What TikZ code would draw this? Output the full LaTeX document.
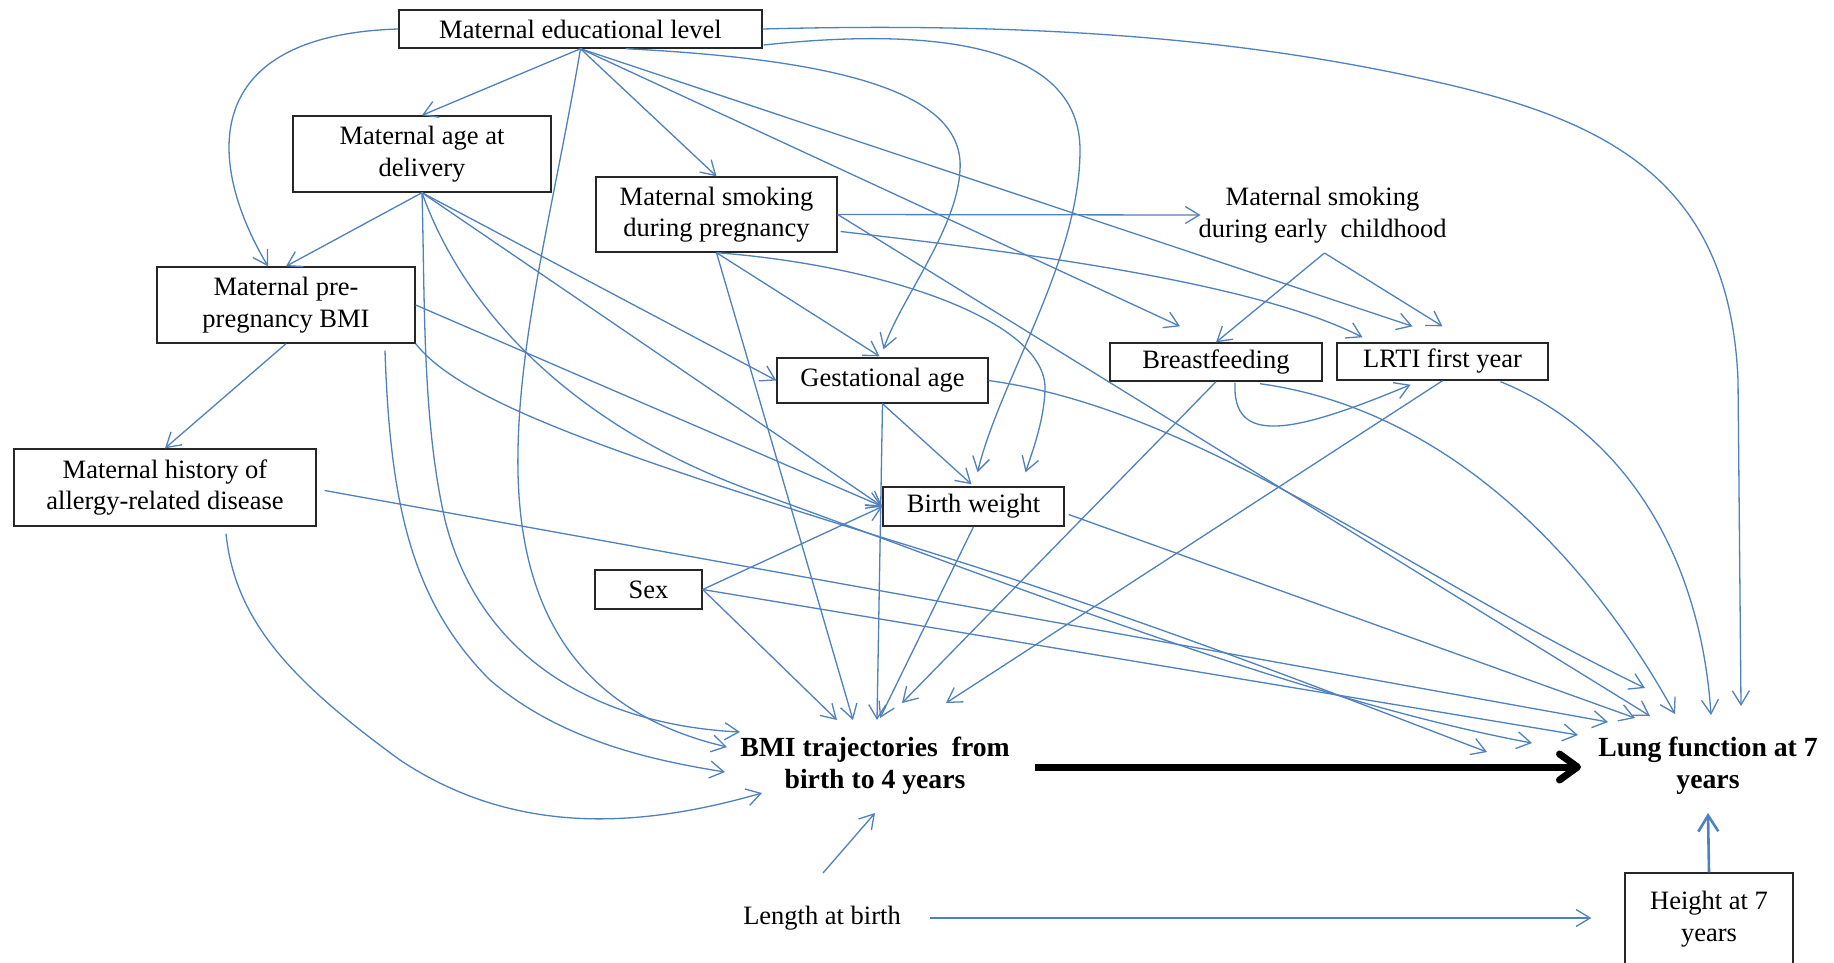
\documentclass[tikz,border=0pt]{standalone}
\usepackage{fontspec}
\setmainfont{Liberation Serif}
\usetikzlibrary{arrows.meta,calc}
\definecolor{edgeblue}{RGB}{79,129,189}
\tikzset{
  lbl/.style={font=\fontsize{26.5}{31.5}\selectfont, align=center, inner sep=0pt, text=black},
  bx/.style={lbl, draw=black!85, line width=1.4pt},
  boldlbl/.style={font=\fontsize{27.7}{32}\selectfont\bfseries, align=center, inner sep=0pt},
  conn/.style={draw=edgeblue, line width=1.3pt, -{Straight Barb[length=14pt,width=17pt]}},
  mainarrow/.style={draw=black, line width=7pt, -{Straight Barb[length=18pt,width=26pt,round]}},
  heightarrow/.style={draw=edgeblue, line width=2.6pt, -{Straight Barb[length=16pt,width=20pt]}},
}
\begin{document}
\begin{tikzpicture}[x=1pt,y=-1pt]
\fill[white] (0,0) rectangle (1834,962);
\useasboundingbox (0,0) rectangle (1834,962);

% nodes
\node[bx, minimum width=363, minimum height=38] (edu) at (580.5,29) {Maternal educational level};
\node[bx, minimum width=258, minimum height=76] (age) at (422,154) {Maternal age at\\delivery};
\node[bx, minimum width=241, minimum height=75] (smokP) at (716.5,214.5) {Maternal smoking\\during pregnancy};
\node[lbl] (smokC) at (1322.5,215) {Maternal smoking\\during early\ \ childhood};
\node[bx, minimum width=258, minimum height=76] (bmiM) at (286,305) {Maternal pre-\\pregnancy BMI};
\node[bx, minimum width=211, minimum height=45] (gest) at (882.5,380.5) {Gestational age};
\node[bx, minimum width=212, minimum height=38] (breast) at (1216,362) {Breastfeeding};
\node[bx, minimum width=211, minimum height=37] (lrti) at (1442.5,361.5) {LRTI first year};
\node[bx, minimum width=302, minimum height=77] (allergy) at (165,487.5) {Maternal history of\\allergy-related disease};
\node[bx, minimum width=181, minimum height=39] (bw) at (973.5,506.5) {Birth weight};
\node[bx, minimum width=107, minimum height=39] (sex) at (648.5,589.5) {Sex};
\node[boldlbl] (bmit) at (875,766) {BMI trajectories\ \ from\\birth to 4 years};
\node[boldlbl] (lung) at (1708,766) {Lung function at 7\\years};
\node[lbl] (length) at (822,918) {Length at birth};
\node[bx, minimum width=168, minimum height=92] (height) at (1709,919) {Height at 7\\years};

% maternal educational level
\draw[conn] (edu.west) .. controls (200,35) and (205,160) .. ($(bmiM.north)+(-18,0)$);
\draw[conn] (edu.south) -- (age.north);
\draw[conn] (edu.south) -- (smokP.north);
\draw[conn] ($(edu.south)+(45,0)$) .. controls (850,60) and (965,95) .. (960,170) .. controls (957,230) and (900,300) .. ($(gest.north)+(1,-8)$);
\draw[conn] (edu.south) -- ($(breast.north)+(-36,-16)$);
\draw[conn] (edu.south) -- ($(lrti.north)+(-30,-16)$);
\draw[conn] ($(edu.east)+(1,16)$) .. controls (950,25) and (1080,50) .. (1080,150) .. controls (1080,260) and (1000,380) .. ($(bw.north)+(4,-14)$);
\draw[conn] (edu.east) .. controls (1100,20) and (1300,50) .. (1450,85) .. controls (1620,125) and (1730,190) .. (1738,380) -- ($(lung)+(33,-60)$);
\draw[conn] (edu.south) .. controls (555,200) and (520,330) .. (518,450) .. controls (515,600) and (570,710) .. ($(bmit)+(-148,-19)$);

% maternal age
\draw[conn] (age.south) -- (bmiM.north);
\draw[conn] (age.south) -- (gest.west);
\draw[conn] (age.south) -- (bw.west);
\draw[conn] (age.south) .. controls (425,300) and (422,420) .. (445,520) .. controls (480,660) and (600,725) .. ($(bmit)+(-135,-34)$);
\draw[conn] (age.south) .. controls (460,300) and (560,420) .. (750,490) .. controls (1000,580) and (1300,700) .. ($(lung)+(-176,-23)$);

% maternal pre-pregnancy BMI
\draw[conn] (bmiM.south) -- (allergy.north);
\draw[conn] (bmiM.east) -- (bw.west);
\draw[conn] (bmiM.south east) .. controls (460,400) and (600,450) .. (900,543) .. controls (1150,620) and (1350,700) .. ($(lung)+(-221,-14)$);
\draw[conn] ($(bmiM.south)+(99,7)$) .. controls (390,500) and (410,600) .. (490,680) .. controls (560,740) and (650,760) .. ($(bmit)+(-150,6)$);

% maternal history of allergy
\draw[conn] ($(allergy.east)+(8,3)$) -- ($(lung)+(-100,-44)$);
\draw[conn] ($(allergy.south)+(61,7)$) .. controls (235,620) and (290,680) .. (400,760) .. controls (520,840) and (650,825) .. ($(bmit)+(-113,27)$);

% maternal smoking during pregnancy
\draw[conn] (smokP.east) -- ($(smokC)+(-122,0)$);
\draw[conn] ($(smokP.east)+(3,17)$) .. controls (1000,250) and (1250,280) .. ($(lrti.north)+(-80,-5)$);
\draw[conn] (smokP.south) -- ($(gest.north)+(-3,-1)$);
\draw[conn] (smokP.south) .. controls (880,265) and (1048,320) .. (1045,390) .. controls (1044,420) and (1033,450) .. ($(bw.north)+(52,-14)$);
\draw[conn] (smokP.south) -- ($(bmit)+(-22,-46)$);
\draw[conn] (smokP.east) -- ($(lung)+(-58,-50)$);

% maternal smoking during early childhood
\draw[conn] ($(smokC)+(2,38)$) -- (breast.north);
\draw[conn] ($(smokC)+(2,38)$) -- ($(lrti.north)+(0,-16)$);

% gestational age
\draw[conn] (gest.south) -- ($(bw.north)+(-2,-2)$);
\draw[conn] (gest.south) -- ($(bmit)+(2,-46)$);
\draw[conn] (gest.east) .. controls (1200,410) and (1400,570) .. ($(lung)+(-63,-78)$);

% birth weight
\draw[conn] (bw.south) -- ($(bmit)+(5,-48)$);
\draw[conn] ($(bw.east)+(4,8)$) -- ($(lung)+(-73,-48)$);

% sex
\draw[conn] (sex.east) -- (bw.west);
\draw[conn] (sex.east) -- ($(bmit)+(-38,-46)$);
\draw[conn] (sex.east) -- ($(lung)+(-130,-31)$);

% breastfeeding
\draw[conn] (breast.south) -- ($(bmit)+(27,-63)$);
\draw[conn] ($(breast.south)+(19,1)$) .. controls (1232,445) and (1290,435) .. ($(lrti.south)+(-32,4)$);
\draw[conn] ($(breast.south)+(44,2)$) .. controls (1450,410) and (1590,560) .. ($(lung)+(-33,-52)$);

% LRTI
\draw[conn] (lrti.south) -- ($(bmit)+(71,-63)$);
\draw[conn] ($(lrti.south)+(58,1)$) .. controls (1620,430) and (1700,550) .. ($(lung)+(3,-51)$);

% length at birth
\draw[conn] ($(length)+(1,-45)$) -- ($(bmit)+(0,47)$);
\draw[conn] ($(length)+(108,0)$) -- ($(height.west)+(-33,-1)$);

% height
\draw[heightarrow] (height.north) -- ($(lung)+(0,47)$);

% main effect
\draw[mainarrow] ($(bmit)+(160,1)$) -- ($(lung)+(-127,1)$);
\end{tikzpicture}
\end{document}
